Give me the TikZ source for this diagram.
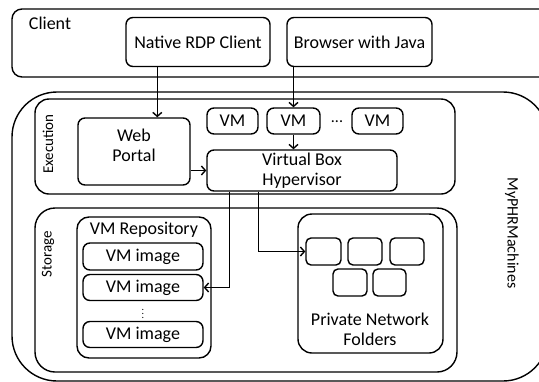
\documentclass[tikz,border=0pt]{standalone}
\usepackage{fontspec}
\setmainfont{Carlito}
\usepackage{tikz}
\usetikzlibrary{arrows.meta, positioning, calc}

\begin{document}
\begin{tikzpicture}[x=1pt, y=-1pt, line width=1.4pt, >={Straight Barb[length=4pt, width=9pt]},
    box/.style={draw, rounded corners=7pt, inner sep=0pt, align=center, font=\fontsize{18}{20}\selectfont},
    folder/.style={draw, rounded corners=5pt, inner sep=0pt, minimum width=34pt, minimum height=27pt},
    layer/.style={font=\fontsize{15}{17}\selectfont}]
    \useasboundingbox (0,0) rectangle (539,381);
    \clip (0,0) rectangle (539,381);

    % Client layer
    \draw[rounded corners=10pt] (12,9) rectangle (570,77);
    \node[font=\fontsize{18}{20}\selectfont] (client) at (50,23) {Client};
    \node[box, minimum width=144pt, minimum height=49pt] (native) at (198,42) {Native RDP Client};
    \node[box, minimum width=145pt, minimum height=49pt] (browser) at (359.5,42) {Browser with Java};

    % MyPHRMachines
    \draw[rounded corners=45pt] (12,92) rectangle (548,381);
    \node[layer, rotate=-90, font=\fontsize{16}{18}\selectfont] (myphr) at (512,233) {MyPHRMachines};

    % Execution layer
    \draw[rounded corners=14pt] (35,99) rectangle (455,194);
    \node[layer, rotate=90] (exec) at (48,144) {Execution};
    \node[box, minimum width=112pt, minimum height=67pt] (portal) at (134,151.5) {Web\\Portal\\[-8pt]};
    \node[box, minimum width=51pt, minimum height=26pt] (vm1) at (232.5,121) {VM};
    \node[box, minimum width=53pt, minimum height=26pt] (vm2) at (293.5,121) {VM};
    \node[font=\fontsize{16}{18}\selectfont] (vmdots) at (337,122) {...};
    \node[box, minimum width=51pt, minimum height=26pt] (vm3) at (377.5,121) {VM};
    \node[box, minimum width=190pt, minimum height=41pt] (hyper) at (302,170.5) {Virtual Box\\Hypervisor};

    % Storage layer
    \draw[rounded corners=20pt] (35,208) rectangle (457,372);
    \node[layer, rotate=90] (stor) at (48,254) {Storage};
    \node[draw, rounded corners=12pt, minimum width=134pt, minimum height=141pt] (repo) at (144,287.5) {};
    \node[below=2pt of repo.north, font=\fontsize{18}{20}\selectfont] (repotitle) {VM Repository};
    \node[box, minimum width=120pt, minimum height=27pt] (img1) at (143,256.5) {VM image};
    \node[box, minimum width=120pt, minimum height=26pt] (img2) at (143,287.5) {VM image};
    \node[inner sep=0pt] (imgdots) at (143,311) {$\vdots$};
    \node[box, minimum width=120pt, minimum height=26pt] (img3) at (143,334.5) {VM image};

    \node[draw, rounded corners=14pt, minimum width=145pt, minimum height=139pt] (private) at (370.5,283.5) {};
    \node[folder, minimum width=35pt] (f1) at (323.5,251.5) {};
    \node[folder] (f2) at (365,251.5) {};
    \node[folder] (f3) at (407,251.5) {};
    \node[folder] (f4) at (350,282.5) {};
    \node[folder, minimum width=33pt] (f5) at (389.5,282.5) {};
    \node[align=center, font=\fontsize{18}{20}\selectfont] (privlabel) at (370,329) {Private Network\\Folders};

    % Connections
    \draw[->] ([xshift=32pt]native.south west) -- ([xshift=32pt]native.south west |- portal.north);
    \draw[->] (browser.south -| vm2.north) -- (vm2.north);
    \draw[->] (vm2.south) -- (hyper.north -| vm2.south);
    \draw[->] (portal.east |- hyper.west) -- (hyper.west);
    \draw[->] ([xshift=23pt]hyper.south west) |- (img2.east);
    \draw[->] ([xshift=52pt]hyper.south west) |- (f1.west);
\end{tikzpicture}
\end{document}
